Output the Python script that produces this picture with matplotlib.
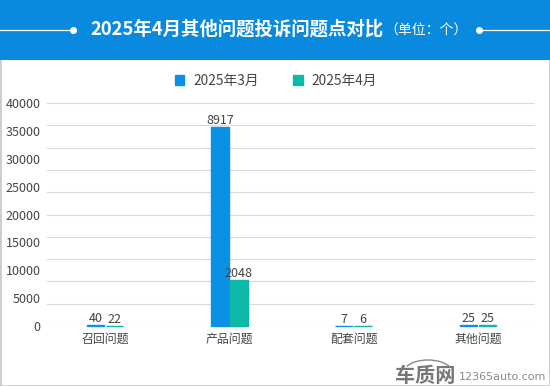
import matplotlib
matplotlib.use("Agg")
import matplotlib.pyplot as plt
from matplotlib.patches import Rectangle, Arc

plt.rcParams["font.family"] = ["Noto Sans CJK SC", "DejaVu Sans"]

categories = ["召回问题", "产品问题", "配套问题", "其他问题"]
march = [40, 8917, 7, 25]
april = [22, 2048, 6, 25]
series_names = ["2025年3月", "2025年4月"]
# the printed scale does not line up with the gridlines in the original
tick_labels = [0, 5000, 10000, 15000, 20000, 25000, 30000, 35000, 40000]

BLUE = "#0a91e6"
TEAL = "#0db8a6"
HEADER = "#0a8ade"
W, H = 550, 386


def px(x, y):
    """Pixel del original a coordenadas de figura."""
    return x / W, 1 - y / H


fig = plt.figure(figsize=(5.5, 3.86), dpi=100)

# frame and header
fig.add_artist(Rectangle((0, 0), 1, 1, transform=fig.transFigure, fc="white", ec="#cccccc", lw=2, zorder=-2))
fig.add_artist(Rectangle(px(0, 60), 1, 60 / H, transform=fig.transFigure, fc=HEADER, ec="none", zorder=-1))
fig.add_artist(plt.Line2D([0, 73 / W], [px(0, 30)[1]] * 2, color="white", lw=0.9))
fig.add_artist(plt.Line2D([479 / W, 1], [px(0, 30)[1]] * 2, color="white", lw=0.9))
for x in (73, 479):
    fig.add_artist(plt.Line2D([x / W], [px(0, 30)[1]], marker="o", ms=4, color="white"))
fig.text(*px(90, 29.5), "2025年4月其他问题投诉问题点对比", color="white", fontsize=13.25, fontweight="bold", va="center")
fig.text(*px(384, 31), "（单位：个）", color="white", fontsize=10, va="center")

# plot area
left, right, top, bottom = 47, 535, 103, 326
ax = fig.add_axes([left / W, 1 - bottom / H, (right - left) / W, (bottom - top) / H])
step = 124.3
ax.set_xlim((left - 105) / step, (right - 105) / step)
ax.set_ylim(0, 10000)
ax.set_yticks(range(0, 10001, 1000))
ax.set_xticks(range(len(categories)), categories)
ax.grid(axis="y", color="#d9d9d9", lw=0.8)
ax.set_axisbelow(True)
for s in ax.spines.values():
    s.set_visible(False)
ax.tick_params(axis="both", length=0)
ax.tick_params(axis="x", labelsize=8.6, labelcolor="#444444", pad=5)
ax.tick_params(axis="y", labelleft=False)

bw = 17.5 / step
xs = list(range(len(categories)))
b1 = ax.bar([x - 9.5 / step for x in xs], march, bw, color=BLUE, edgecolor=BLUE, lw=1.0, label=series_names[0], clip_on=False)
b2 = ax.bar([x + 9.5 / step for x in xs], april, bw, color=TEAL, edgecolor=TEAL, lw=1.0, label=series_names[1], clip_on=False)
ax.bar_label(b1, fontsize=9, color="#444444", padding=0)
ax.bar_label(b2, fontsize=9, color="#444444", padding=0)

# printed scale
ax2 = ax.twinx()
ax2.set_ylim(0, 40000)
ax2.set_yticks(tick_labels)
ax2.yaxis.tick_left()
ax2.tick_params(axis="y", length=0, labelsize=9, labelcolor="#444444", pad=4.5)
for s in ax2.spines.values():
    s.set_visible(False)

fig.legend(handles=[b1, b2], labels=series_names, loc="center", bbox_to_anchor=px(276, 81), ncol=2,
           frameon=False, fontsize=9.9, labelcolor="#444444", handlelength=0.7, handleheight=0.7,
           handletextpad=0.65, columnspacing=2.5)

# watermark
fig.add_artist(Arc(px(428, 372), 48 / W, 24 / H, theta1=20, theta2=160, transform=fig.transFigure, color="#8a8a8a", lw=1))
fig.text(*px(395, 375), "车质网", color="#777777", fontsize=14.5, fontweight="bold", ha="left", va="center")
fig.text(*px(459, 377), "12365auto.com", color="#8a8a8a", fontsize=8, ha="left", va="center",
         family="DejaVu Sans")

fig.savefig("out.png", dpi=100)
